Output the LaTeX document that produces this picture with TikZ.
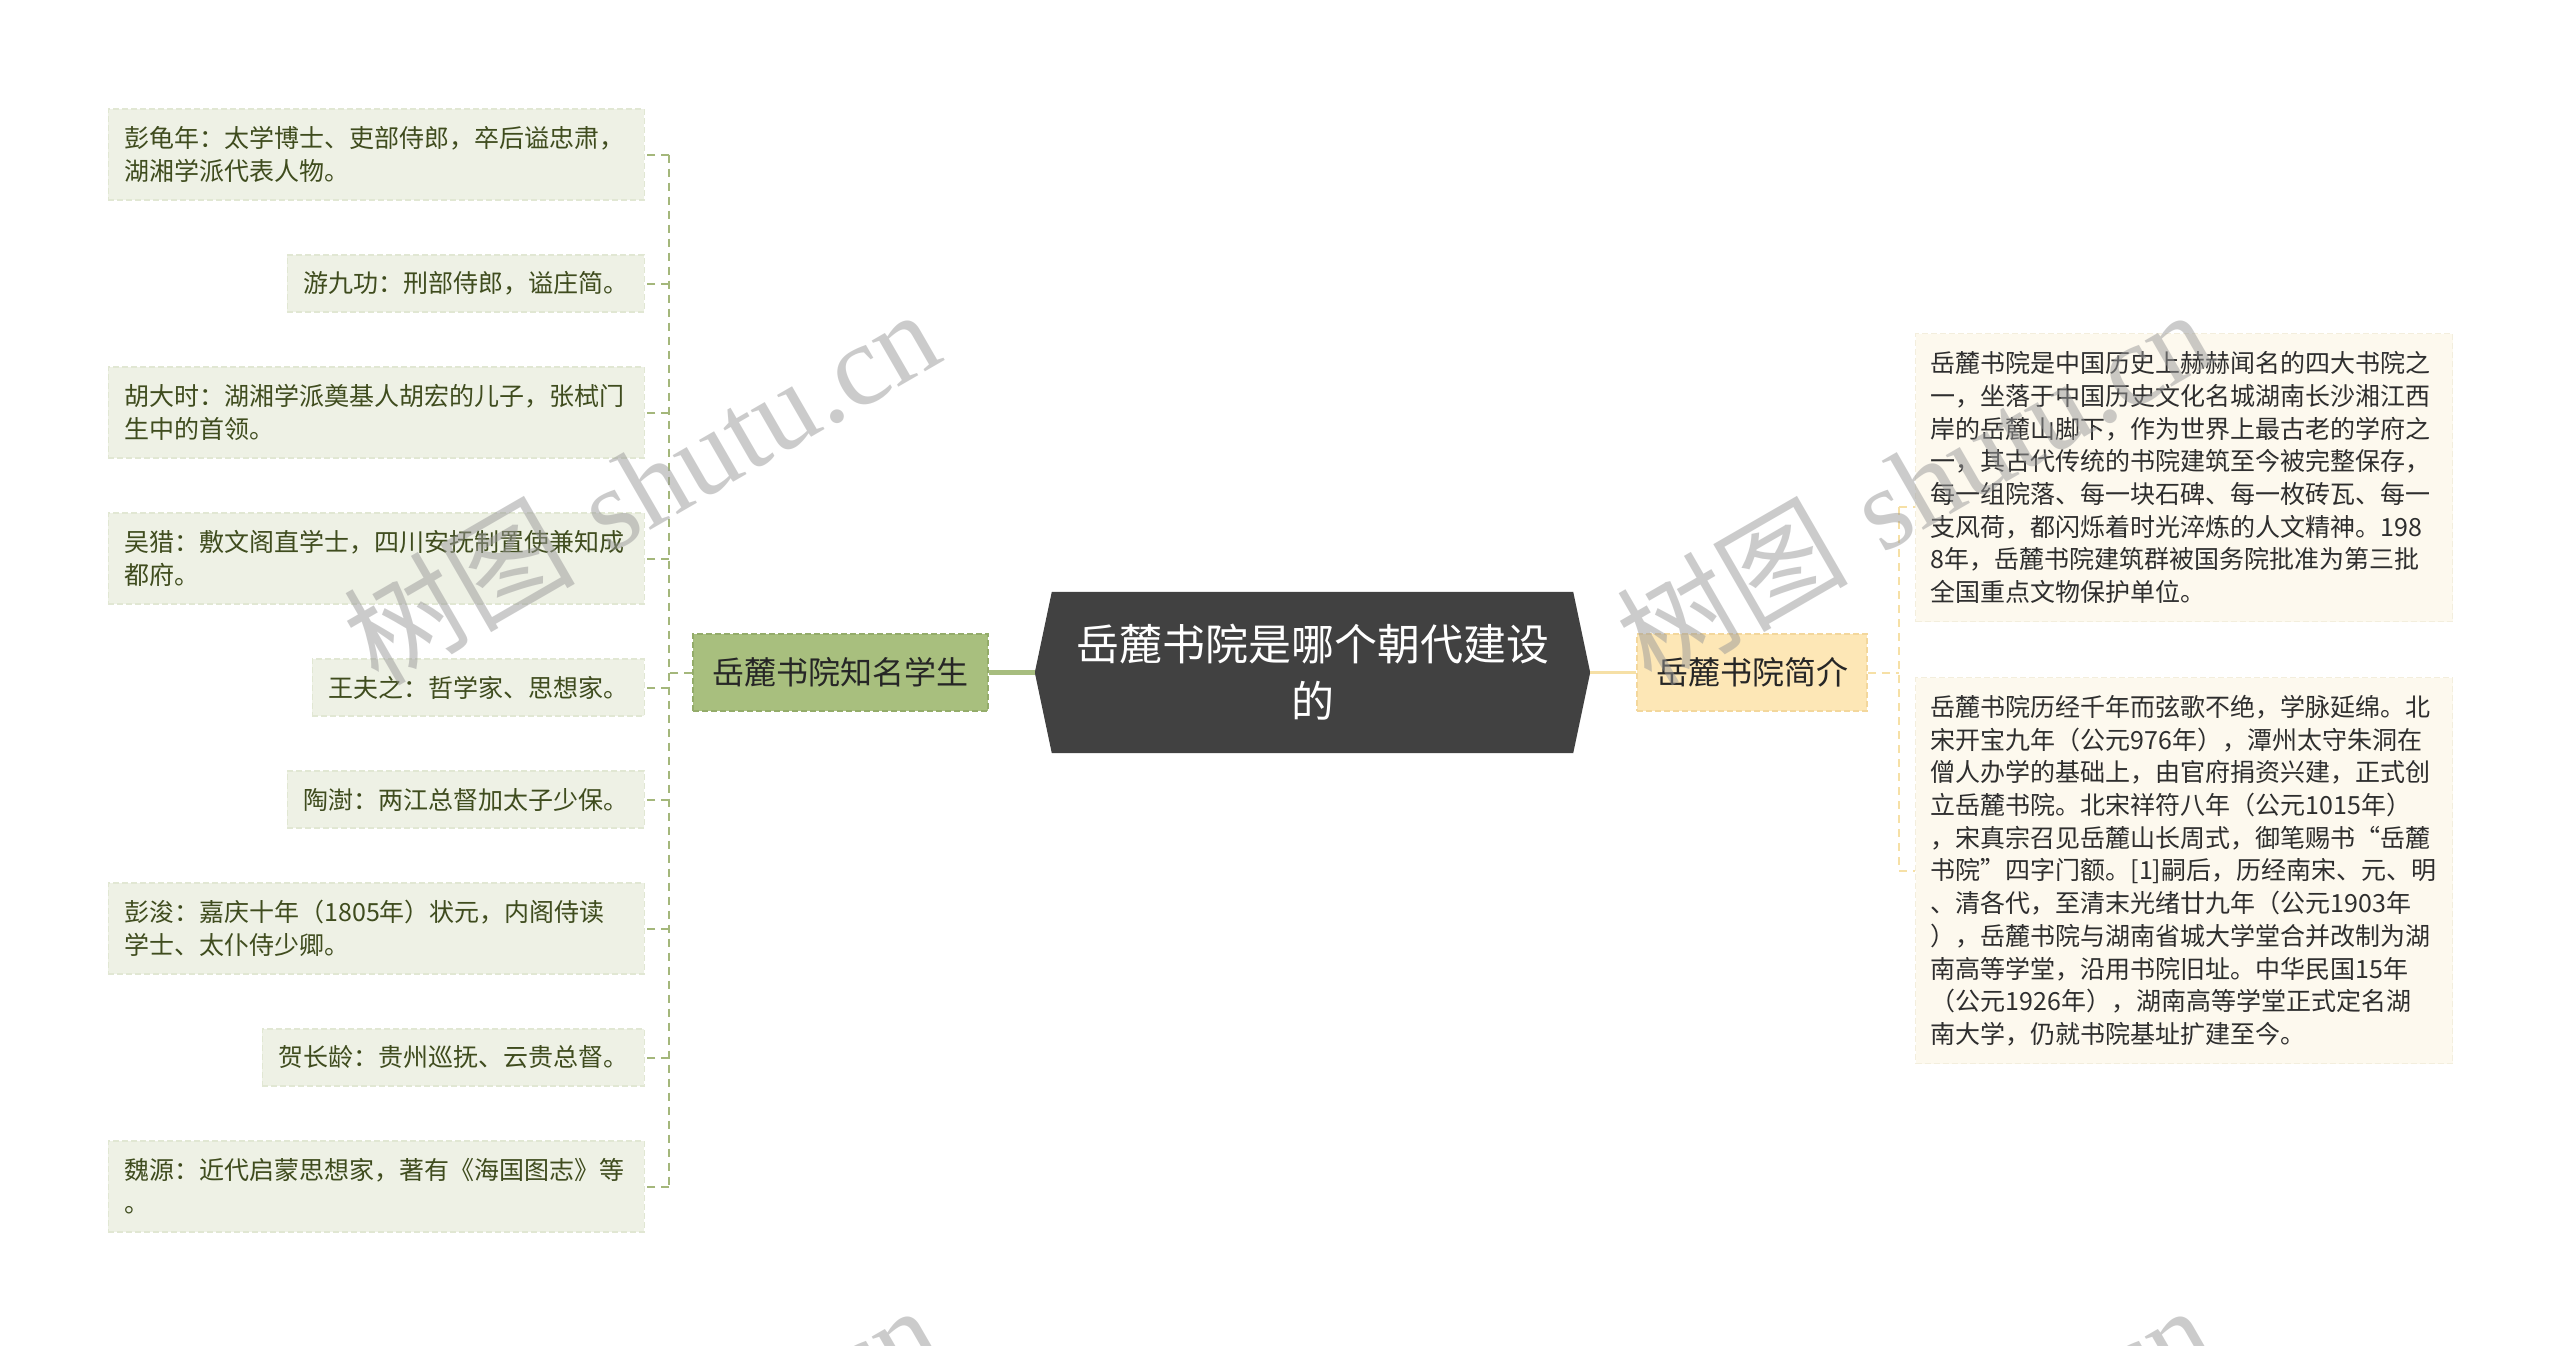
\documentclass[tikz,border=0pt]{standalone}
\usepackage{fontspec}
\newfontfamily\cjk{Noto Sans CJK SC}
\newfontfamily\wmserif{Liberation Serif}
\usetikzlibrary{calc}
\pgfdeclarelayer{bg}
\pgfdeclarelayer{fg}
\pgfsetlayers{bg,main,fg}
\definecolor{lfill}{HTML}{EEF1E5}
\definecolor{lborder}{HTML}{E1E7D3}
\definecolor{ltext}{HTML}{3F4C1E}
\definecolor{lline}{HTML}{A4B77B}
\definecolor{gfill}{HTML}{A8BF7E}
\definecolor{gborder}{HTML}{94AC6A}
\definecolor{gline}{HTML}{A7BD7F}
\definecolor{yfill}{HTML}{FDE7B6}
\definecolor{yborder}{HTML}{F3D79C}
\definecolor{yline}{HTML}{F6E0A6}
\definecolor{rfill}{HTML}{FDF9EE}
\definecolor{rborder}{HTML}{F3EEDD}
\definecolor{rtext}{HTML}{2E2E2E}
\definecolor{cfill}{HTML}{414141}
\definecolor{wmgray}{HTML}{999999}
\begin{document}
\begin{tikzpicture}[x=1pt,y=1pt,
  leaf/.style={fill=lfill, draw=lborder, dash pattern=on 6pt off 3pt, line width=1.2pt,
    text=ltext, font=\cjk\fontsize{25}{33}\selectfont, inner xsep=16, inner ysep=0,
    anchor=east, align=left},
  leaftwo/.style={leaf, text width=504, minimum height=91},
  leafone/.style={leaf, minimum height=57},
  rbox/.style={fill=rfill, draw=rborder, dash pattern=on 6pt off 3pt, line width=1.2pt,
    text=rtext, font=\cjk\fontsize{25}{32.7}\selectfont, text width=507,
    inner xsep=15, inner ysep=0, anchor=north west, align=left},
  ctext/.style={text=white, font=\cjk\fontsize{43}{57}\selectfont, align=center,
    minimum width=555, minimum height=161, inner sep=0},
  gnode/.style={fill=gfill, draw=gborder, dash pattern=on 6pt off 3pt, line width=1.5pt,
    text=black!85, font=\cjk\fontsize{32}{38}\selectfont, minimum width=295,
    minimum height=77, inner sep=0},
  ynode/.style={fill=yfill, draw=yborder, dash pattern=on 6pt off 3pt, line width=1.5pt,
    text=black!85, font=\cjk\fontsize{32}{38}\selectfont, minimum width=230,
    minimum height=77, inner sep=0},
  ldash/.style={draw=lline, line width=2pt, dash pattern=on 8pt off 6pt},
  rdash/.style={draw=yline, line width=2pt, dash pattern=on 8pt off 6pt},
  gconn/.style={draw=gline, line width=4.5pt},
  yconn/.style={draw=yline, line width=3pt},
  wm/.style={text=wmgray, opacity=0.5, font=\fontsize{116}{124}\selectfont, inner sep=0}
]
\useasboundingbox (0,0) rectangle (2560,-1345);
\begin{pgfonlayer}{bg}
  \fill[white] (0,0) rectangle (2560,-1345);
\end{pgfonlayer}

% central topic
\node[ctext] (c) at (1312.5,-672.5) {岳麓书院是哪个朝代建设\\的};
\begin{pgfonlayer}{bg}
  \fill[cfill] (c.west) -- ($(c.north west)+(17,0)$) -- ($(c.north east)+(-17,0)$)
    -- (c.east) -- ($(c.south east)+(-17,0)$) -- ($(c.south west)+(17,0)$) -- cycle;
\end{pgfonlayer}

% main branches
\node[gnode] (g) at (840.5,-672.5) {岳麓书院知名学生};
\node[ynode] (yl) at (1752,-672.5) {岳麓书院简介};

% left leaves
\node[leaftwo] (l1) at (645,-154.5) {彭龟年：太学博士、吏部侍郎，卒后谥忠肃，\\湖湘学派代表人物。};
\node[leafone] (l2) at (645,-283.5) {游九功：刑部侍郎，谥庄简。};
\node[leaftwo] (l3) at (645,-412.5) {胡大时：湖湘学派奠基人胡宏的儿子，张栻门\\生中的首领。};
\node[leaftwo] (l4) at (645,-558.5) {吴猎：敷文阁直学士，四川安抚制置使兼知成\\都府。};
\node[leafone] (l5) at (645,-687.5) {王夫之：哲学家、思想家。};
\node[leafone] (l6) at (645,-799.5) {陶澍：两江总督加太子少保。};
\node[leaftwo] (l7) at (645,-928.5) {彭浚：嘉庆十年（1805年）状元，内阁侍读\\学士、太仆侍少卿。};
\node[leafone] (l8) at (645,-1057.5) {贺长龄：贵州巡抚、云贵总督。};
\node[leaftwo] (l9) at (645,-1186.5) {魏源：近代启蒙思想家，著有《海国图志》等\\。};

% right leaves
\node[rbox, minimum height=288] (r1) at (1915,-333) {岳麓书院是中国历史上赫赫闻名的四大书院之\\一，坐落于中国历史文化名城湖南长沙湘江西\\岸的岳麓山脚下，作为世界上最古老的学府之\\一，其古代传统的书院建筑至今被完整保存，\\每一组院落、每一块石碑、每一枚砖瓦、每一\\支风荷，都闪烁着时光淬炼的人文精神。198\\8年，岳麓书院建筑群被国务院批准为第三批\\全国重点文物保护单位。};
\node[rbox, minimum height=386] (r2) at (1915,-677) {岳麓书院历经千年而弦歌不绝，学脉延绵。北\\宋开宝九年（公元976年），潭州太守朱洞在\\僧人办学的基础上，由官府捐资兴建，正式创\\立岳麓书院。北宋祥符八年（公元1015年）\\，宋真宗召见岳麓山长周式，御笔赐书“岳麓\\书院”四字门额。[1]嗣后，历经南宋、元、明\\、清各代，至清末光绪廿九年（公元1903年\\），岳麓书院与湖南省城大学堂合并改制为湖\\南高等学堂，沿用书院旧址。中华民国15年\\（公元1926年），湖南高等学堂正式定名湖\\南大学，仍就书院基址扩建至今。};

% connectors: center
\draw[gconn] (g.east) -- (c.west);
\draw[yconn] (c.east) -- (yl.west);

% connectors: left tree
\coordinate (lv) at (669,-672.5);
\draw[ldash] (g.west) -- (lv);
\draw[ldash] (lv |- l1.east) -- (lv |- l9.east);
\foreach \i in {1,...,9} {
  \draw[ldash] (lv |- l\i.east) -- (l\i.east);
}

% connectors: right tree
\coordinate (rv) at (1899,-672.5);
\coordinate (r1c) at ($(r1.north west)+(0,-174)$);
\draw[rdash] (yl.east) -- (rv);
\draw[rdash] (rv |- r1c) -- (rv |- r2.west);
\draw[rdash] (rv |- r1c) -- (r1c);
\draw[rdash] (rv |- r2.west) -- (r2.west);

% watermark
\begin{pgfonlayer}{fg}
\begin{scope}
  \clip (0,0) rectangle (2560,-1345);
  \foreach \dx/\dy in {0/0, 1273/0, 0/996, 1273/996} {
    \node[wm, anchor=base west, rotate=30] at (378+\dx,-688-\dy) {{\cjk 树图} {\wmserif shutu.cn}};
  }
\end{scope}
\end{pgfonlayer}
\end{tikzpicture}
\end{document}
